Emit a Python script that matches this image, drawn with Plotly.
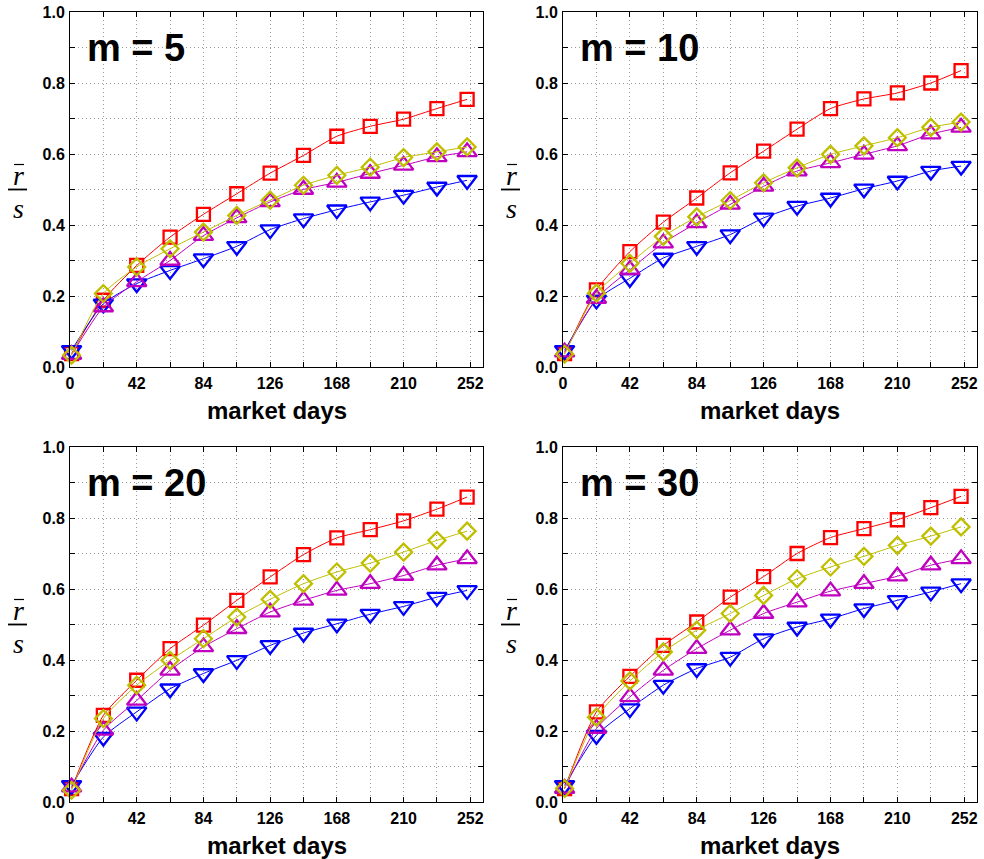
import plotly.graph_objects as go

W, H = 984, 859

days = [1, 21, 42, 63, 84, 105, 126, 147, 168, 189, 210, 231, 250]
x_tick_vals = [0, 21, 42, 63, 84, 105, 126, 147, 168, 189, 210, 231, 252]
x_tick_text = ["0", "", "42", "", "84", "", "126", "", "168", "", "210", "", "252"]
y_tick_vals = [0.0, 0.1, 0.2, 0.3, 0.4, 0.5, 0.6, 0.7, 0.8, 0.9, 1.0]
y_tick_text = ["0.0", "", "0.2", "", "0.4", "", "0.6", "", "0.8", "", "1.0"]

panel_titles = ["m = 5", "m = 10", "m = 20", "m = 30"]

# series per panel: red squares, olive diamonds, magenta up-triangles, blue down-triangles
red_m5 = [0.038, 0.188, 0.286, 0.366, 0.430, 0.488, 0.546, 0.596, 0.650, 0.678, 0.698, 0.728, 0.754]
olive_m5 = [0.033, 0.207, 0.282, 0.333, 0.380, 0.427, 0.470, 0.512, 0.540, 0.563, 0.590, 0.606, 0.620]
magenta_m5 = [0.035, 0.169, 0.240, 0.300, 0.370, 0.420, 0.465, 0.500, 0.520, 0.545, 0.568, 0.592, 0.606]
blue_m5 = [0.047, 0.178, 0.235, 0.272, 0.305, 0.340, 0.387, 0.418, 0.443, 0.465, 0.484, 0.507, 0.526]

red_m10 = [0.038, 0.217, 0.325, 0.408, 0.476, 0.547, 0.608, 0.670, 0.728, 0.755, 0.772, 0.800, 0.835]
olive_m10 = [0.036, 0.208, 0.292, 0.368, 0.423, 0.469, 0.519, 0.561, 0.599, 0.623, 0.646, 0.675, 0.690]
magenta_m10 = [0.042, 0.193, 0.274, 0.349, 0.406, 0.458, 0.509, 0.552, 0.575, 0.599, 0.623, 0.656, 0.675]
blue_m10 = [0.047, 0.189, 0.250, 0.307, 0.340, 0.373, 0.420, 0.453, 0.476, 0.502, 0.524, 0.552, 0.566]

red_m20 = [0.038, 0.244, 0.343, 0.432, 0.498, 0.568, 0.634, 0.697, 0.744, 0.767, 0.792, 0.825, 0.859]
olive_m20 = [0.033, 0.235, 0.329, 0.399, 0.460, 0.521, 0.571, 0.615, 0.648, 0.673, 0.704, 0.737, 0.763]
magenta_m20 = [0.042, 0.202, 0.286, 0.371, 0.437, 0.488, 0.535, 0.568, 0.596, 0.615, 0.638, 0.667, 0.685]
blue_m20 = [0.047, 0.183, 0.254, 0.319, 0.362, 0.399, 0.441, 0.476, 0.502, 0.529, 0.551, 0.577, 0.596]

red_m30 = [0.038, 0.254, 0.354, 0.441, 0.507, 0.577, 0.635, 0.700, 0.745, 0.770, 0.795, 0.829, 0.861]
olive_m30 = [0.038, 0.239, 0.341, 0.423, 0.484, 0.531, 0.582, 0.629, 0.662, 0.692, 0.723, 0.749, 0.775]
magenta_m30 = [0.038, 0.207, 0.296, 0.371, 0.432, 0.484, 0.531, 0.563, 0.594, 0.615, 0.636, 0.667, 0.685]
blue_m30 = [0.047, 0.188, 0.263, 0.329, 0.376, 0.408, 0.460, 0.493, 0.516, 0.545, 0.568, 0.592, 0.615]

panels = [
    (red_m5, olive_m5, magenta_m5, blue_m5),
    (red_m10, olive_m10, magenta_m10, blue_m10),
    (red_m20, olive_m20, magenta_m20, blue_m20),
    (red_m30, olive_m30, magenta_m30, blue_m30),
]

# pixel boxes of plot areas in page coordinates: (left, right, top, bottom)
boxes = [(70, 483, 12, 367), (563, 977, 12, 367), (70, 483, 447, 802), (563, 977, 447, 802)]

def px(x):
    return x / W

def py(y):
    return 1 - y / H

fig = go.Figure()
FONT = "Liberation Sans, Arial, sans-serif"
SERIF = "Liberation Serif, DejaVu Serif, serif"

styles = [
    ("red", "#ff0000", "square-open", 13),
    ("blue", "#0000ff", "triangle-down-open", 17),
    ("magenta", "#bf00bf", "triangle-up-open", 17),
    ("olive", "#bfbf00", "diamond-open", 13),
]

for i, (red, olive, mag, blue) in enumerate(panels):
    data = {"red": red, "olive": olive, "magenta": mag, "blue": blue}
    xa = "x" if i == 0 else f"x{i+1}"
    ya = "y" if i == 0 else f"y{i+1}"
    for name, color, sym, size in styles:
        fig.add_trace(go.Scatter(
            x=days, y=data[name], xaxis=xa, yaxis=ya, mode="lines+markers",
            line=dict(color=color, width=1, shape="spline", smoothing=0.6),
            marker=dict(symbol=sym, size=size, color=color, line=dict(color=color, width=2.3)),
            showlegend=False, hoverinfo="skip", cliponaxis=False))
    l, r, t, b = boxes[i]
    axkw = dict(showline=True, linecolor="black", linewidth=1, mirror="ticks",
                ticks="inside", ticklen=5, tickcolor="black", tickwidth=1,
                showgrid=True, gridcolor="#9a9a9a", griddash="1px,3px", gridwidth=1,
                zeroline=False, automargin=False, ticklabeloverflow="allow",
                tickfont=dict(family=FONT, size=16, color="black", weight="bold"))
    fig.layout[f"xaxis{'' if i == 0 else i+1}"] = dict(
        domain=[px(l), px(r)], range=[0, 260], anchor=ya, ticklabelstandoff=2,
        tickmode="array", tickvals=x_tick_vals, ticktext=x_tick_text, **axkw)
    fig.layout[f"yaxis{'' if i == 0 else i+1}"] = dict(
        domain=[py(b), py(t)], range=[0, 1], anchor=xa, ticklabelstandoff=1,
        tickmode="array", tickvals=y_tick_vals, ticktext=y_tick_text, **axkw)

    # panel label
    fig.add_annotation(x=px(l + 15), y=py(t + 36), xref="paper", yref="paper",
                       text=f"<b>{panel_titles[i]}</b>", showarrow=False,
                       xanchor="left", yanchor="middle",
                       font=dict(family=FONT, size=38, color="black"))
    # x axis title
    fig.add_annotation(x=px((l + r) / 2), y=py(b + 43), xref="paper", yref="paper",
                       text="<b>market days</b>", showarrow=False,
                       xanchor="center", yanchor="middle",
                       font=dict(family=FONT, size=24, color="black"))
    # y axis label as fraction r-bar / s
    cx = 18 if l < 300 else 511
    cy = (t + b) / 2
    fig.add_annotation(x=px(cx), y=py(cy - 14), xref="paper", yref="paper",
                       text="<i>r</i>", showarrow=False, xanchor="center", yanchor="middle",
                       font=dict(family=SERIF, size=28, color="black"))
    fig.add_shape(type="line", xref="paper", yref="paper",
                  x0=px(cx - 4), x1=px(cx + 6), y0=py(cy - 25), y1=py(cy - 25),
                  line=dict(color="black", width=1.2))
    fig.add_annotation(x=px(cx), y=py(cy + 19), xref="paper", yref="paper",
                       text="<i>s</i>", showarrow=False, xanchor="center", yanchor="middle",
                       font=dict(family=SERIF, size=28, color="black"))
    fig.add_shape(type="line", xref="paper", yref="paper",
                  x0=px(cx - 10), x1=px(cx + 9), y0=py(cy), y1=py(cy),
                  line=dict(color="black", width=1.8))

fig.update_layout(width=W, height=H, margin=dict(l=0, r=0, t=0, b=0),
                  paper_bgcolor="white", plot_bgcolor="white")

fig.write_html("out.html", config={"displayModeBar": False},
               post_script="document.body.style.margin='0';document.body.style.overflow='hidden';")
